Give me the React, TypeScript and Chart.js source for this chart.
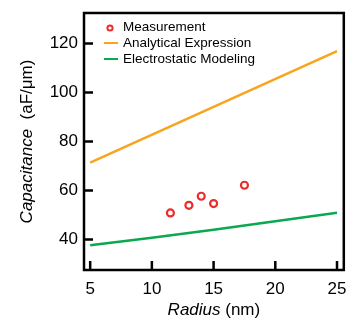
import React, { useEffect, useRef } from "react";
import { Chart, registerables } from "chart.js";

Chart.register(...registerables);

const measRadius = [11.5, 13, 14, 15, 17.5];
const measCap = [50.9, 54.0, 57.7, 54.7, 62.2];
const analyticRadius = [5, 25];
const analyticCap = [71.4, 116.9];
const modelRadius = [5, 10, 15, 20, 25];
const modelCap = [37.7, 40.8, 44.0, 47.5, 51.0];
const xTicks = [5, 10, 15, 20, 25];
const yTicks = [40, 60, 80, 100, 120];
const seriesLabels = ["Measurement", "Analytical Expression", "Electrostatic Modeling"];
const xTitle = ["Radius", " (nm)"];
const yTitle = ["Capacitance", "  (aF/\u03bcm)"];

const RED = "#ee2b2b";
const ORANGE = "#f8a51d";
const GREEN = "#0aa84f";
const FONT = "'Liberation Sans', Arial, sans-serif";

const framePlugin = {
  id: "frameAndDecor",
  afterDraw(chart: any) {
    const { ctx, chartArea: a, scales } = chart;
    const xs = scales.x;
    const ys = scales.y;
    ctx.save();
    ctx.strokeStyle = "#000";
    ctx.lineWidth = 2.5;
    ctx.strokeRect(a.left, a.top, a.right - a.left, a.bottom - a.top);
    ctx.beginPath();
    xTicks.forEach((v) => {
      const px = xs.getPixelForValue(v);
      ctx.moveTo(px, a.bottom);
      ctx.lineTo(px, a.bottom - 9);
    });
    yTicks.forEach((v) => {
      const py = ys.getPixelForValue(v);
      ctx.moveTo(a.left, py);
      ctx.lineTo(a.left + 9, py);
    });
    ctx.stroke();

    // legend
    const lx = a.left + 26;
    const rows = [a.top + 14, a.top + 30, a.top + 46];
    ctx.font = `13.5px ${FONT}`;
    ctx.fillStyle = "#000";
    ctx.textBaseline = "middle";
    ctx.textAlign = "left";
    ctx.beginPath();
    ctx.arc(lx, rows[0] + 1, 2.6, 0, Math.PI * 2);
    ctx.strokeStyle = RED;
    ctx.lineWidth = 2;
    ctx.stroke();
    ctx.strokeStyle = ORANGE;
    ctx.beginPath();
    ctx.moveTo(lx - 6, rows[1]);
    ctx.lineTo(lx + 8, rows[1]);
    ctx.stroke();
    ctx.strokeStyle = GREEN;
    ctx.beginPath();
    ctx.moveTo(lx - 6, rows[2]);
    ctx.lineTo(lx + 8, rows[2]);
    ctx.stroke();
    seriesLabels.forEach((t, i) => ctx.fillText(t, lx + 13, rows[i]));

    // x title
    const cx = (a.left + a.right) / 2;
    ctx.font = `italic 17px ${FONT}`;
    const w1 = ctx.measureText(xTitle[0]).width;
    ctx.font = `17px ${FONT}`;
    const w2 = ctx.measureText(xTitle[1]).width;
    const sx = cx - (w1 + w2) / 2;
    ctx.textBaseline = "alphabetic";
    ctx.font = `italic 17px ${FONT}`;
    ctx.fillText(xTitle[0], sx, 315);
    ctx.font = `17px ${FONT}`;
    ctx.fillText(xTitle[1], sx + w1, 315);

    // y title
    const cy = (a.top + a.bottom) / 2;
    ctx.translate(32, cy);
    ctx.rotate(-Math.PI / 2);
    ctx.font = `italic 17px ${FONT}`;
    const v1 = ctx.measureText(yTitle[0]).width;
    ctx.font = `17px ${FONT}`;
    const v2 = ctx.measureText(yTitle[1]).width;
    const sy = -(v1 + v2) / 2;
    ctx.font = `italic 17px ${FONT}`;
    ctx.fillText(yTitle[0], sy, 0);
    ctx.font = `17px ${FONT}`;
    ctx.fillText(yTitle[1], sy + v1, 0);
    ctx.restore();
  },
};

export default function App() {
  const ref = useRef<HTMLCanvasElement>(null);
  useEffect(() => {
    if (!ref.current) return;
    const chart = new Chart(ref.current, {
      type: "scatter",
      data: {
        datasets: [
          {
            label: seriesLabels[0],
            data: measRadius.map((x, i) => ({ x, y: measCap[i] })),
            showLine: false,
            pointRadius: 3.5,
            pointBorderWidth: 2.2,
            pointBorderColor: RED,
            pointBackgroundColor: "#fff",
          },
          {
            label: seriesLabels[1],
            data: analyticRadius.map((x, i) => ({ x, y: analyticCap[i] })),
            showLine: true,
            borderColor: ORANGE,
            borderWidth: 2.5,
            pointRadius: 0,
          },
          {
            label: seriesLabels[2],
            data: modelRadius.map((x, i) => ({ x, y: modelCap[i] })),
            showLine: true,
            borderColor: GREEN,
            borderWidth: 2.5,
            pointRadius: 0,
            tension: 0,
          },
        ],
      },
      options: {
        responsive: false,
        animation: false,
        layout: { padding: { top: 13, right: 6, left: 0, bottom: 0 } },
        plugins: { legend: { display: false }, tooltip: { enabled: false } },
        scales: {
          x: {
            type: "linear",
            min: 4.5,
            max: 25.55,
            afterBuildTicks: (s: any) => {
              s.ticks = xTicks.map((v) => ({ value: v }));
            },
            afterFit: (s: any) => {
              s.height = 53;
              s.paddingLeft = 0;
              s.paddingRight = 0;
            },
            grid: { display: false, drawTicks: false },
            border: { display: false },
            ticks: {
              color: "#000",
              padding: 9,
              maxRotation: 0,
              font: { family: FONT, size: 17 },
            },
          },
          y: {
            type: "linear",
            min: 27.6,
            max: 132.5,
            afterBuildTicks: (s: any) => {
              s.ticks = yTicks.map((v) => ({ value: v }));
            },
            afterFit: (s: any) => {
              s.width = 84;
              s.paddingTop = 0;
              s.paddingBottom = 0;
            },
            grid: { display: false, drawTicks: false },
            border: { display: false },
            ticks: {
              color: "#000",
              padding: 6,
              font: { family: FONT, size: 17 },
            },
          },
        },
      },
      plugins: [framePlugin],
    });
    return () => chart.destroy();
  }, []);
  return (
    <canvas
      ref={ref}
      width={350}
      height={323}
      style={{ position: "absolute", left: 0, top: 0, display: "block" }}
    />
  );
}
